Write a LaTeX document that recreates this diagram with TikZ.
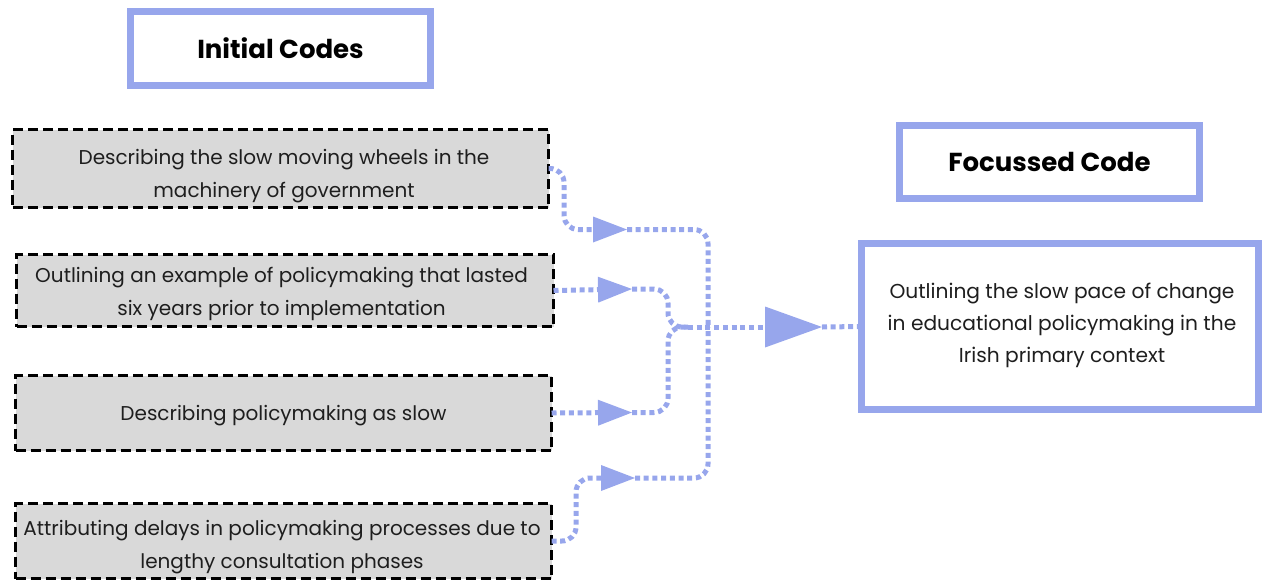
\documentclass[tikz,border=0pt]{standalone}
\usepackage{fontspec}
\setmainfont{Poppins}
\usetikzlibrary{arrows.meta}
\definecolor{codeblue}{RGB}{151,166,236}
\definecolor{boxgray}{RGB}{217,217,217}
\definecolor{ink}{RGB}{30,30,30}
\begin{document}
\begin{tikzpicture}[x=1pt,y=-1pt,
  header/.style={draw=codeblue, line width=7pt, inner sep=0pt, outer sep=0pt,
    text=black, font=\fontsize{26}{30}\selectfont\bfseries, align=center},
  outcome/.style={draw=codeblue, line width=7pt, inner sep=0pt, outer sep=0pt},
  initbox/.style={draw=black, fill=boxgray, line width=3pt, dash pattern=on 10pt off 5pt,
    inner sep=0pt, outer sep=0pt, minimum width=536pt},
  codetext/.style={inner sep=0pt, text=ink, font=\fontsize{20}{33}\selectfont, align=center},
  focustext/.style={inner sep=0pt, text=ink, font=\fontsize{20.2}{32}\selectfont, align=center},
  flow/.style={draw=codeblue, line width=5pt, dash pattern=on 5pt off 3.7pt, rounded corners=14pt},
  tip/.style={-{Triangle[length=34pt,width=26pt,line width=0pt]}},
  bigtip/.style={-{Triangle[length=57pt,width=41pt,line width=0pt]}}
]
\useasboundingbox (0,0) rectangle (1265,581);

% column headings
\node[header, minimum width=300pt, minimum height=74pt] (ini) at (280.5,48.5) {Initial Codes};
\node[header, minimum width=300pt, minimum height=73pt] (foc) at (1049.5,162) {Focussed Code};

% initial code boxes
\node[initbox, minimum height=78pt] (b1) at (280.5,168.5) {};
\node[initbox, minimum height=72pt, minimum width=537pt] (b2) at (285,290.5) {};
\node[initbox, minimum height=75pt] (b3) at (283.5,413) {};
\node[initbox, minimum height=75pt] (b4) at (283.5,541) {};

% initial code texts
\node[codetext] (b1t) at (284,176.5) {Describing the slow moving wheels in the\\machinery of government};
\node[codetext] (b2t) at (281.5,294) {Outlining an example of policymaking that lasted\\six years prior to implementation};
\node[codetext] (b3t) at (283.5,416) {Describing policymaking as slow};
\node[codetext] (b4t) at (282,547) {Attributing delays in policymaking processes due to\\lengthy consultation phases};

% focussed code box and text
\node[outcome, minimum width=397pt, minimum height=166pt] (out) at (1060,326.5) {};
\node[focustext] (outt) at (1062,325.5) {Outlining the slow pace of change\\in educational policymaking in the\\Irish primary context};

% arrow tips and junction
\coordinate (t1) at (627,229.5);
\coordinate (t2) at (632,289);
\coordinate (t3) at (632,412.5);
\coordinate (t4) at (635,478);
\coordinate (t5) at (822,327);
\coordinate (j) at (688,327);

% branches into the arrow tips
\draw[flow, tip] (b1.east) -- (564,168.5) -- (564,229.5) -- (t1);
\draw[flow, tip] (b2.east) -- (t2);
\draw[flow, tip] (b3.east) -- (t3);
\draw[flow, tip] (b4.east) -- (576,541) -- (576,478) -- (t4);

% branches onward to the junction
\draw[flow] (t1) -- (708,229.5) -- (708,327);
\draw[flow] (t4) -- (708,478) -- (708,327);
\draw[flow] (t2) -- (668,289) -- (668,327) -- (j);
\draw[flow] (t3) -- (668,412.5) -- (668,327) -- (j);

% trunk into the focussed code
\draw[flow, bigtip] (j) -- (t5);
\draw[flow] (t5) -- (out.west);
\end{tikzpicture}
\end{document}
